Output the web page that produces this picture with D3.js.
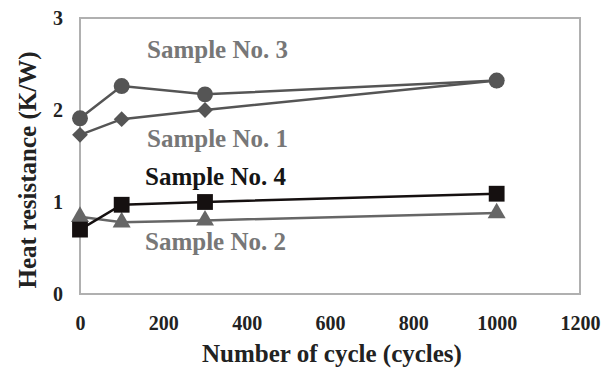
<!DOCTYPE html>
<html>
<head>
<meta charset="utf-8">
<script src="https://cdn.jsdelivr.net/npm/d3@7"></script>
<style>
  body { margin: 0; background: #fff; }
  text { font-family: "Liberation Serif", "Times New Roman", serif; font-weight: bold; }
</style>
</head>
<body>
<div id="chart"></div>
<script>
// data
var cycles = [0, 100, 300, 1000];
var sample3 = [1.91, 2.26, 2.17, 2.32];
var sample1 = [1.73, 1.90, 2.00, 2.32];
var sample4 = [0.70, 0.97, 1.00, 1.09];
var sample2 = [0.84, 0.78, 0.80, 0.88];
var xTicks = [0, 200, 400, 600, 800, 1000, 1200];
var yTicks = [0, 1, 2, 3];

function program() {
    var width = 613,
        height = 370;

    var svg = d3.select("#chart")
        .append("svg")
        .attr("width", width)
        .attr("height", height);

    var x = d3.scaleLinear().domain([0, 1200]).range([80, 580]);
    var y = d3.scaleLinear().domain([0, 3]).range([294, 18]);

    // plot frame
    svg.append("rect")
        .attr("x", x(0)).attr("y", y(3))
        .attr("width", x(1200) - x(0)).attr("height", y(0) - y(3))
        .attr("fill", "none")
        .attr("stroke", "#b0b0b0")
        .attr("stroke-width", 2);

    // axes (labels only, no tick marks)
    var xAxis = svg.append("g")
        .attr("transform", "translate(0," + y(0) + ")")
        .call(d3.axisBottom(x).tickValues(xTicks).tickFormat(d3.format("d")).tickSize(0).tickPadding(22));
    xAxis.select(".domain").remove();
    xAxis.selectAll("text")
        .attr("font-size", 20)
        .attr("font-family", "Liberation Serif")
        .attr("font-weight", "bold")
        .attr("fill", "#222");

    var yAxis = svg.append("g")
        .attr("transform", "translate(" + x(0) + ",0)")
        .call(d3.axisLeft(y).tickValues(yTicks).tickFormat(d3.format("d")).tickSize(0).tickPadding(17));
    yAxis.select(".domain").remove();
    yAxis.selectAll("text")
        .attr("font-size", 20)
        .attr("font-family", "Liberation Serif")
        .attr("font-weight", "bold")
        .attr("fill", "#222");

    var series = [
        {name: "Sample No. 3", values: sample3, color: "#555", shape: d3.symbolCircle, size: 200, rot: 0},
        {name: "Sample No. 1", values: sample1, color: "#555", shape: d3.symbolSquare, size: 125, rot: 45},
        {name: "Sample No. 2", values: sample2, color: "#666", shape: d3.symbolTriangle, size: 140, rot: 0},
        {name: "Sample No. 4", values: sample4, color: "#151010", shape: d3.symbolSquare, size: 250, rot: 0}
    ];

    var line = d3.line()
        .x(function(d, i) { return x(cycles[i]); })
        .y(function(d) { return y(d); });

    series.forEach(function(s) {
        svg.append("path")
            .datum(s.values)
            .attr("d", line)
            .attr("fill", "none")
            .attr("stroke", s.color)
            .attr("stroke-width", 2.5);

        svg.append("g")
            .selectAll("path")
            .data(s.values)
            .join("path")
            .attr("transform", function(d, i) {
                return "translate(" + x(cycles[i]) + "," + y(d) + ") rotate(" + s.rot + ")";
            })
            .attr("d", d3.symbol().type(s.shape).size(s.size))
            .attr("fill", s.color);
    });

    // series labels
    var labels = [
        {text: "Sample No. 3", lx: 147, ly: 58, color: "#777"},
        {text: "Sample No. 1", lx: 147, ly: 147, color: "#777"},
        {text: "Sample No. 4", lx: 145, ly: 185, color: "#151515"},
        {text: "Sample No. 2", lx: 145, ly: 250, color: "#777"}
    ];
    svg.append("g")
        .selectAll("text")
        .data(labels)
        .join("text")
        .attr("x", function(d) { return d.lx; })
        .attr("y", function(d) { return d.ly; })
        .attr("font-size", 25)
        .attr("fill", function(d) { return d.color; })
        .text(function(d) { return d.text; });

    // axis titles
    svg.append("text")
        .attr("x", 332)
        .attr("y", 362)
        .attr("text-anchor", "middle")
        .attr("font-size", 25)
        .attr("fill", "#222")
        .text("Number of cycle (cycles)");

    svg.append("text")
        .attr("transform", "translate(36,170) rotate(-90)")
        .attr("text-anchor", "middle")
        .attr("font-size", 25)
        .attr("fill", "#222")
        .text("Heat resistance (K/W)");
}

program();
</script>
</body>
</html>
